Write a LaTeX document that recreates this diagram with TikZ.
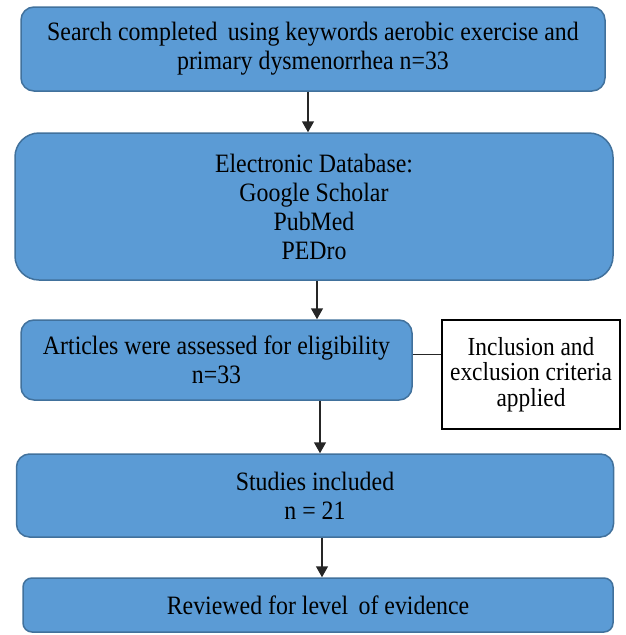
\documentclass[tikz,border=0pt]{standalone}
\usepackage{fontspec}
\setmainfont{Liberation Serif}[FakeStretch=0.9]
\usetikzlibrary{arrows.meta,positioning}
\definecolor{boxblue}{RGB}{91,155,213}
\definecolor{edgeblue}{RGB}{65,113,156}
\definecolor{arrowgrey}{RGB}{38,38,38}
\tikzset{
  stepbox/.style={draw=edgeblue,line width=1.5pt,fill=boxblue,
    rounded corners=13pt,align=center,inner sep=2pt,
    font=\fontsize{26.5}{29}\selectfont},
  sidebox/.style={draw=black,line width=1.5pt,fill=white,
    align=center,inner sep=2pt,font=\fontsize{26}{25.5}\selectfont},
  flow/.style={-{Triangle[length=11pt,width=12pt]},line width=1.5pt,draw=arrowgrey},
  link/.style={line width=1.5pt,draw=arrowgrey}
}

\begin{document}
\begin{tikzpicture}[x=1pt,y=-1pt]
  \useasboundingbox (0,0) rectangle (626,635);
  \node[stepbox,minimum width=584pt,minimum height=84pt] (search) at (313,49)
    {Search completed\, using keywords aerobic exercise and\\primary dysmenorrhea n=33};
  \node[stepbox,rounded corners=24pt,minimum width=598pt,minimum height=147pt] (dbase) at (314,206.5)
    {Electronic Database:\\Google Scholar\\PubMed\\PEDro};
  \node[stepbox,minimum width=391pt,minimum height=80pt] (assess) at (216.5,360)
    {Articles were assessed for eligibility\\n=33};
  \node[sidebox,minimum width=178pt,minimum height=109pt] (criteria) at (531,374.5)
    {Inclusion and\\exclusion criteria\\applied};
  \node[stepbox,minimum width=597pt,minimum height=83pt] (included) at (315,495.5)
    {Studies included\\n = 21};
  \node[stepbox,rounded corners=9pt,minimum width=590pt,minimum height=54pt] (review) at (318,605)
    {Reviewed for level\, of evidence};
  \draw[flow] ([xshift=-5pt]search.south) -- ([xshift=-5pt]search.south |- dbase.north);
  \draw[flow] ([xshift=3pt]dbase.south) -- ([xshift=3pt]dbase.south |- assess.north);
  \draw[flow] ([xshift=5pt]included.north |- assess.south) -- ([xshift=5pt]included.north);
  \draw[flow] ([xshift=7pt]included.south) -- ([xshift=7pt]included.south |- review.north);
  \draw[link] (assess.east |- criteria.west) ++(0,-20) coordinate (a) -- (a -| criteria.west);
\end{tikzpicture}
\end{document}
